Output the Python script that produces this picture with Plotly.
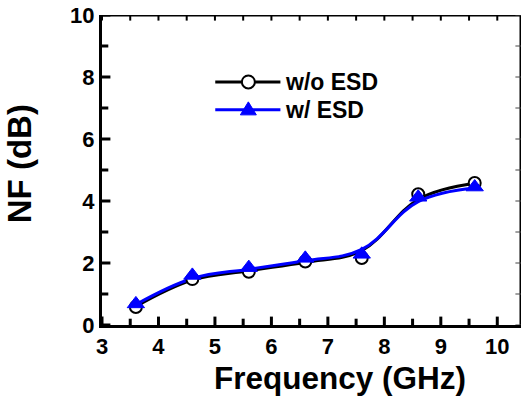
import plotly.graph_objects as go

freq = [3.6, 4.6, 5.6, 6.6, 7.6, 8.6, 9.6]
nf_wo_esd = [0.58, 1.48, 1.72, 2.05, 2.16, 4.22, 4.58]
nf_w_esd = [0.68, 1.60, 1.85, 2.15, 2.28, 4.12, 4.45]
# smoothed fit curves
fit_wo_esd = [0.60, 1.45, 1.75, 2.02, 2.40, 4.05, 4.57]
fit_w_esd = [0.66, 1.50, 1.80, 2.07, 2.44, 3.98, 4.42]

x_ticks = [3, 4, 5, 6, 7, 8, 9, 10]
x_minor = [3.5, 4.5, 5.5, 6.5, 7.5, 8.5, 9.5]
y_ticks = [0, 2, 4, 6, 8, 10]
y_minor = [1, 3, 5, 7, 9]
series_names = ["w/o ESD", "w/ ESD"]

X_RANGE = [3, 10.42]
Y_RANGE = [0, 10]

BLACK = "#000000"
BLUE = "#0000FF"
FONT = "Liberation Sans"

fig = go.Figure()
fig.add_trace(go.Scatter(x=freq, y=fit_wo_esd, mode="lines", line=dict(color=BLACK, width=3, shape="spline", smoothing=1.1), showlegend=False, hoverinfo="skip"))
fig.add_trace(go.Scatter(x=freq, y=fit_w_esd, mode="lines", line=dict(color=BLUE, width=3, shape="spline", smoothing=1.1), showlegend=False, hoverinfo="skip"))
fig.add_trace(go.Scatter(x=freq, y=nf_wo_esd, mode="markers", name=series_names[0],
                         marker=dict(symbol="circle", size=12, color="white", line=dict(color=BLACK, width=2)), showlegend=False))
fig.add_trace(go.Scatter(x=freq, y=nf_w_esd, mode="markers", name=series_names[1],
                         marker=dict(symbol="triangle-up", size=15, color=BLUE, line=dict(color=BLUE, width=1)), showlegend=False))

# frame (top and right border) along the axis range
fig.add_trace(go.Scatter(x=[X_RANGE[0], X_RANGE[1], X_RANGE[1]], y=[Y_RANGE[1], Y_RANGE[1], Y_RANGE[0]],
                         mode="lines", line=dict(color=BLACK, width=3), cliponaxis=False,
                         showlegend=False, hoverinfo="skip"))

# inward tick marks on all four sides (half-clipped markers at the tick values)
def tick_trace(xs, ys, symbol, size, width, color=BLACK):
    return go.Scatter(x=xs, y=ys, mode="markers", cliponaxis=True, showlegend=False, hoverinfo="skip",
                      marker=dict(symbol=symbol, size=size, color=color, line=dict(color=color, width=width)))

fig.add_trace(tick_trace(x_ticks, [Y_RANGE[0]] * len(x_ticks), "line-ns-open", 12, 3))
fig.add_trace(tick_trace(x_minor, [Y_RANGE[0]] * len(x_minor), "line-ns-open", 9, 3))
fig.add_trace(tick_trace(x_ticks + x_minor, [Y_RANGE[1]] * (len(x_ticks) + len(x_minor)), "line-ns-open", 8, 2))
fig.add_trace(tick_trace([X_RANGE[0]] * len(y_ticks), y_ticks, "line-ew-open", 12, 3))
fig.add_trace(tick_trace([X_RANGE[0]] * len(y_minor), y_minor, "line-ew-open", 9, 3))
fig.add_trace(tick_trace([X_RANGE[1]] * (len(y_ticks) + len(y_minor)), y_ticks + y_minor, "line-ew-open", 8, 1, "#444444"))

# manual legend (symbols as shapes, labels as annotations)
rows = [0.784, 0.694]
lx0, lx1, lxm, ltx = 0.2703, 0.4258, 0.3493, 0.4326
for yy, col in zip(rows, [BLACK, BLUE]):
    fig.add_shape(type="line", xref="paper", yref="paper", x0=lx0, x1=lx1, y0=yy, y1=yy,
                  line=dict(color=col, width=3))
fig.add_shape(type="circle", xref="paper", yref="paper", xsizemode="pixel", ysizemode="pixel",
              xanchor=lxm, yanchor=rows[0], x0=-6.5, x1=6.5, y0=-6.5, y1=6.5,
              fillcolor="white", line=dict(color=BLACK, width=2))
fig.add_shape(type="path", xref="paper", yref="paper", xsizemode="pixel", ysizemode="pixel",
              xanchor=lxm, yanchor=rows[1], path="M-8,-5 L8,-5 L0,8 Z",
              fillcolor=BLUE, line=dict(color=BLUE, width=1))
for yy, name in zip(rows, series_names):
    fig.add_annotation(x=ltx, y=yy, xref="paper", yref="paper", text="<b>" + name + "</b>", showarrow=False,
                       xanchor="left", yanchor="middle",
                       font=dict(size=23, family=FONT, color="black"))

# axis titles
fig.add_annotation(x=0.568, y=-0.17, xref="paper", yref="paper", text="<b>Frequency (GHz)</b>",
                   showarrow=False, xanchor="center", yanchor="middle",
                   font=dict(size=31.5, family=FONT, color="black"))
fig.add_annotation(x=-0.197, y=0.52, xref="paper", yref="paper", text="<b>NF (dB)</b>", textangle=-90,
                   showarrow=False, xanchor="center", yanchor="middle",
                   font=dict(size=33, family=FONT, color="black"))

fig.update_layout(
    template="none",
    width=522, height=398,
    margin=dict(l=102, r=1, t=15, b=73, autoexpand=False),
    paper_bgcolor="white", plot_bgcolor="white",
    font=dict(family=FONT, color="black", size=18),
    showlegend=False,
    xaxis=dict(
        range=X_RANGE, tickvals=x_ticks,
        ticktext=["<b>%d</b>" % v for v in x_ticks],
        showgrid=False, zeroline=False,
        showline=True, linecolor="black", linewidth=3,
        ticks="", tickfont=dict(size=22, family=FONT, color="black"),
    ),
    yaxis=dict(
        range=Y_RANGE, tickvals=y_ticks,
        ticktext=["<b>%d</b>" % v for v in y_ticks],
        showgrid=False, zeroline=False,
        showline=True, linecolor="black", linewidth=3,
        ticks="", tickfont=dict(size=22, family=FONT, color="black"),
    ),
)

fig.write_html("out.html", config={"displayModeBar": False},
               post_script="document.body.style.margin='0';document.body.style.padding='0';")
